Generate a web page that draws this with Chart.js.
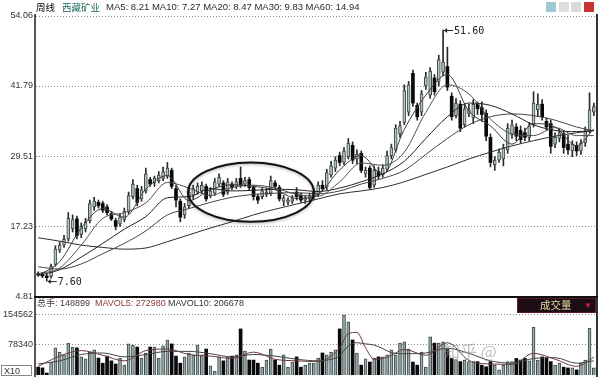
<!DOCTYPE html>
<html>
<head>
<meta charset="utf-8">
<title>西藏矿业 周线</title>
<script src="https://cdn.jsdelivr.net/npm/chart.js@4/dist/chart.umd.min.js"></script>
<style>
  body { margin: 0; background: #fff; }
  #wrap { position: relative; width: 600px; height: 377px; overflow: hidden; background: #fff;
          font-family: "Liberation Sans", Arial, sans-serif; }
  canvas { position: absolute; left: 0; }
  #price { top: 0; }
  #vol { top: 297px; }
  .t { position: absolute; white-space: nowrap; line-height: 12px; }
  .cjk { font-family: "Noto Sans CJK SC", sans-serif; }
  .line { position: absolute; }
</style>
</head>
<body>
<div id="wrap">
  <canvas id="vol" width="600" height="80"></canvas>
  <canvas id="price" width="600" height="305"></canvas>

  <!-- frame lines -->
  <div class="line" style="left:34px;top:14px;width:2px;height:363px;background:#555"></div>
  <div class="line" style="left:596px;top:14px;width:2px;height:363px;background:#333"></div>
  <div class="line" style="left:34px;top:296px;width:564px;height:2px;background:#111"></div>

  <!-- price header -->
  <div class="t cjk" style="left:36px;top:1px;font-size:9.5px;color:#000">周线</div>
  <div class="t cjk" style="left:62px;top:1px;font-size:9.5px;color:#1f6a5e">西藏矿业</div>
  <div class="t" style="left:106px;top:1px;font-size:9.5px;color:#2a2a3a">MA5: 8.21 MA10: 7.27 MA20: 8.47 MA30: 9.83 MA60: 14.94</div>

  <!-- small toolbar icons top right -->
  <div class="line" style="left:546px;top:2px;width:10px;height:10px;background:#9cc9d2"></div>
  <div class="line" style="left:559px;top:2px;width:10px;height:10px;background:#dedede"></div>
  <div class="line" style="left:571px;top:2px;width:10px;height:10px;background:#dadada"></div>
  <div class="line" style="left:584px;top:2px;width:10px;height:10px;background:#c83232"></div>

  <!-- volume header -->
  <div class="t" style="left:37px;top:297px;font-size:9px;color:#4a3838"><span class="cjk">总手</span>: 148899</div>
  <div class="t" style="left:95px;top:297px;font-size:9px;color:#8a3a3a">MAVOL5: 272980</div>
  <div class="t" style="left:168px;top:297px;font-size:9px;color:#333">MAVOL10: 206678</div>

  <div class="line" style="left:517px;top:298px;width:79px;height:15px;background:#1c0d14;border:1px solid #5a1a2a;box-sizing:border-box"></div>
  <div class="t cjk" style="left:540px;top:299px;font-size:10.5px;color:#e8dfa0">成交量</div>
  <div class="t" style="left:584px;top:300px;font-size:8px;color:#d0204a">▼</div>

  <div class="t" style="left:1px;top:365px;width:31px;height:11px;border:1px solid #888;font-size:9px;line-height:11px;color:#333;padding-left:2px;box-sizing:border-box">X10</div>

  <!-- watermark -->
  <div class="t cjk" style="left:443px;top:341px;font-size:17px;line-height:20px;color:rgba(140,140,140,0.55)">知乎 @</div>
</div>

<script>
// weekly candles, index 0..129
var openP = [
  8.9, 8.8, 8.5, 8.4, 10.5, 13.0, 13.9, 15.0, 16.8, 18.5,
  15.8, 16.8, 18.2, 20.6, 21.4, 21.2, 20.6, 19.4, 18.2, 17.6,
  18.4, 19.8, 22.4, 23.8, 22.0, 23.4, 25.4, 24.8, 25.2, 25.6,
  26.0, 27.0, 23.8, 21.6, 19.2, 20.8, 22.6, 23.2, 23.4, 24.2,
  22.6, 23.0, 24.6, 24.8, 23.2, 24.6, 24.2, 25.6, 24.6, 25.4,
  24.0, 22.4, 22.4, 22.8, 23.0, 24.8, 24.0, 21.6, 21.4, 21.6,
  23.2, 22.6, 21.8, 22.0, 22.4, 22.8, 24.4, 24.0, 26.2, 27.4,
  29.6, 28.4, 29.4, 31.4, 29.0, 30.0, 26.4, 27.4, 24.4, 26.8,
  26.2, 27.2, 29.6, 30.6, 33.4, 35.4, 37.2, 44.0, 38.4, 37.2,
  41.8, 40.2, 43.2, 42.6, 44.2, 45.2, 40.0, 36.6, 38.6, 35.0,
  37.0, 36.2, 38.6, 38.0, 37.0, 32.8, 28.0, 28.8, 29.0, 30.6,
  33.2, 34.6, 34.0, 33.6, 32.8, 35.0, 37.6, 38.6, 35.6, 35.2,
  31.6, 32.6, 33.4, 31.6, 30.4, 31.4, 30.4, 31.8, 34.0, 37.2
];
var closeP = [
  8.7, 8.5, 8.2, 10.2, 13.2, 13.9, 14.9, 18.6, 18.4, 15.6,
  17.2, 18.0, 21.2, 21.6, 20.8, 20.0, 19.6, 18.5, 17.2, 18.8,
  19.8, 22.6, 24.6, 21.4, 23.6, 26.4, 24.6, 25.6, 26.2, 26.8,
  27.4, 24.2, 21.8, 18.8, 20.6, 23.2, 23.8, 24.2, 24.4, 22.0,
  23.4, 25.0, 25.8, 22.8, 25.0, 24.0, 25.0, 24.4, 25.2, 24.0,
  22.4, 21.8, 23.4, 23.2, 25.2, 24.2, 22.0, 22.2, 21.8, 22.0,
  22.4, 21.8, 22.2, 22.6, 23.2, 24.4, 23.8, 26.6, 27.8, 28.8,
  28.4, 30.4, 31.8, 28.8, 29.8, 27.0, 27.0, 24.0, 27.0, 26.0,
  27.4, 29.6, 31.0, 34.4, 34.8, 41.0, 42.0, 38.8, 36.4, 40.4,
  43.4, 44.4, 40.8, 46.4, 46.0, 41.6, 36.4, 38.8, 34.4, 37.8,
  37.6, 38.6, 37.8, 36.8, 33.0, 28.4, 28.8, 30.2, 31.0, 34.4,
  35.0, 33.0, 32.4, 32.8, 34.8, 38.8, 38.6, 36.4, 34.6, 31.2,
  32.8, 33.6, 31.0, 30.6, 31.6, 30.4, 31.8, 33.8, 37.6, 38.2
];
var highP = [
  9.2, 9.1, 8.8, 10.6, 13.8, 14.5, 15.6, 19.6, 19.2, 19.0,
  17.8, 18.6, 21.8, 22.3, 21.8, 21.6, 21.0, 19.8, 18.6, 19.4,
  20.4, 23.2, 25.4, 24.4, 24.2, 27.4, 25.8, 26.0, 26.8, 27.6,
  28.4, 27.4, 24.4, 22.0, 21.2, 23.8, 24.4, 24.8, 25.0, 24.6,
  24.0, 25.6, 26.4, 25.2, 25.6, 25.0, 25.6, 27.6, 25.8, 25.8,
  24.4, 22.8, 23.8, 23.8, 26.0, 25.2, 24.4, 22.6, 22.2, 22.6,
  24.0, 23.0, 22.6, 23.0, 23.8, 25.0, 25.2, 27.2, 28.6, 29.4,
  30.2, 31.0, 32.6, 32.0, 30.6, 30.4, 27.6, 27.8, 27.8, 27.6,
  28.0, 30.4, 31.6, 35.0, 35.6, 42.0, 42.6, 44.6, 38.8, 41.0,
  44.2, 45.0, 43.8, 47.2, 51.6, 48.6, 40.6, 39.6, 39.2, 38.6,
  38.6, 39.4, 39.0, 39.0, 37.6, 33.4, 29.4, 30.8, 31.6, 35.2,
  35.8, 35.2, 34.8, 34.4, 35.4, 40.8, 40.4, 39.4, 36.2, 35.8,
  33.6, 34.4, 34.0, 33.2, 32.2, 32.0, 32.4, 34.6, 40.6, 38.8
];
var lowP = [
  8.4, 8.2, 7.6, 8.1, 10.2, 12.6, 13.5, 14.6, 16.2, 15.0,
  15.2, 16.2, 17.8, 20.0, 20.4, 19.6, 19.2, 18.2, 16.6, 17.2,
  18.0, 19.4, 22.0, 20.8, 21.6, 23.0, 24.2, 24.2, 24.8, 25.2,
  25.6, 23.8, 20.6, 18.0, 18.6, 20.4, 22.0, 22.8, 23.0, 21.6,
  22.2, 22.6, 24.2, 22.4, 22.8, 23.6, 23.8, 24.0, 24.2, 23.6,
  21.8, 21.2, 22.0, 22.4, 22.6, 23.6, 21.6, 20.8, 21.0, 21.2,
  21.8, 21.4, 21.2, 21.6, 22.0, 22.4, 23.4, 23.6, 25.8, 26.8,
  27.8, 28.0, 29.0, 28.2, 28.2, 26.6, 25.8, 23.6, 24.0, 25.4,
  25.8, 26.8, 29.0, 30.2, 32.8, 35.0, 36.6, 38.2, 35.8, 36.6,
  41.2, 39.6, 40.2, 41.8, 43.6, 41.0, 35.8, 36.2, 33.8, 34.6,
  36.4, 35.2, 36.8, 35.6, 32.2, 27.6, 27.0, 28.4, 27.8, 30.0,
  32.6, 32.2, 31.8, 32.2, 32.2, 34.6, 36.4, 35.8, 34.0, 30.0,
  31.0, 32.0, 30.0, 29.8, 29.4, 29.6, 29.8, 31.2, 33.6, 36.6
];

// weekly volume, thousands of lots (x10)
var volume = [
  20, 18, 5, 33, 69, 58, 51, 81, 71, 69,
  46, 41, 58, 64, 43, 30, 48, 36, 28, 43,
  25, 79, 76, 71, 43, 56, 71, 71, 43, 74,
  89, 79, 48, 30, 46, 56, 51, 76, 51, 66,
  23, 10, 46, 36, 46, 48, 51, 117, 61, 38,
  38, 30, 20, 38, 66, 38, 25, 51, 20, 33,
  46, 20, 25, 30, 30, 43, 56, 51, 58, 64,
  117, 152, 135, 89, 56, 25, 41, 33, 43, 46,
  46, 51, 64, 51, 81, 84, 66, 33, 25, 58,
  20, 97, 81, 81, 84, 66, 42, 39, 34, 38,
  34, 34, 34, 25, 21, 34, 25, 13, 25, 34,
  34, 42, 38, 42, 36, 122, 38, 46, 43, 34,
  25, 30, 20, 18, 18, 13, 30, 38, 119, 18
];

// moving averages, one value every few weeks
var maWeeks = [0, 5, 10, 15, 20, 25, 30, 35, 40, 45, 50, 55, 60, 65, 70, 75, 80, 85, 90, 95, 100, 105, 110, 115, 120, 125, 129];
var ma5  = [8.6, 11.0, 16.9, 20.3, 18.8, 23.7, 26.1, 21.7, 23.6, 24.5, 24.2, 23.6, 22.1, 22.8, 27.1, 29.6, 26.3, 34.2, 40.2, 43.8, 37.4, 34.8, 31.6, 35.2, 34.6, 31.3, 34.3];
var ma10 = [8.9, 9.9, 13.9, 18.6, 19.6, 21.3, 24.9, 23.9, 22.6, 24.0, 24.4, 23.9, 22.8, 22.5, 25.0, 28.3, 27.9, 30.2, 37.2, 42.0, 40.4, 36.0, 33.4, 33.1, 34.5, 33.1, 33.1];
var ma20 = [8.6, 9.6, 11.8, 14.2, 16.7, 18.9, 22.2, 22.4, 23.8, 23.4, 23.5, 23.7, 23.6, 23.3, 23.9, 25.0, 26.4, 28.6, 32.6, 36.4, 38.8, 38.4, 36.9, 35.0, 34.0, 33.8, 34.0];
var ma30 = [10.1, 9.7, 10.6, 12.4, 14.2, 16.4, 19.2, 20.3, 21.4, 22.3, 22.8, 23.0, 23.1, 22.9, 23.4, 24.6, 25.6, 27.0, 29.8, 32.6, 35.0, 36.4, 36.9, 36.6, 35.8, 34.6, 33.9];
var ma60 = [15.2, 14.6, 13.9, 13.5, 13.2, 13.4, 14.5, 15.7, 16.9, 18.0, 19.2, 20.2, 21.1, 22.0, 22.9, 23.4, 24.0, 25.0, 26.3, 27.6, 29.0, 30.2, 31.3, 32.2, 33.0, 33.6, 34.0];

var volMaWeeks = [0, 5, 10, 15, 20, 25, 30, 35, 40, 45, 50, 55, 60, 65, 68, 70, 72, 74, 76, 78, 80, 82, 85, 90, 95, 100, 105, 110, 115, 120, 125, 129];
var mavol5  = [22, 48, 62, 50, 36, 62, 66, 52, 48, 42, 58, 40, 36, 34, 48, 69, 105, 108, 69, 40, 42, 50, 65, 50, 82, 37, 28, 27, 55, 40, 22, 45];
var mavol10 = [28, 36, 52, 56, 46, 52, 60, 60, 54, 46, 52, 48, 40, 36, 40, 49, 74, 82, 79, 76, 67, 57, 54, 56, 68, 55, 36, 30, 42, 44, 30, 36];

// axis tick labels
var priceTicks = [4.81, 17.23, 29.51, 41.79, 54.06];
var volTicks = [78340, 154562];

// the ring drawn round the sideways stretch (weeks / price)
var ring = { week: 49.4, halfWeeks: 14.6, price: 23.2, halfPrice: 5.2 };

var upFill = "#b4c3c3";
var upEdge = "#3c4747";
var downFill = "#0a0a0a";

function isUp(i) {
  return closeP[i] >= openP[i];
}

function pts(xs, ys, k) {
  return xs.map(function (x, j) { return { x: x, y: ys[j] * (k || 1) }; });
}

function maLine(label, xs, ys, color, k) {
  return {
    type: "line",
    label: label,
    data: pts(xs, ys, k),
    borderColor: color,
    borderWidth: 1,
    pointRadius: 0,
    cubicInterpolationMode: "monotone",
    order: 0
  };
}

var bodies = openP.map(function (o, i) { return { x: i, y: [o, closeP[i]] }; });
var wicks = lowP.map(function (l, i) { return { x: i, y: [l, highP[i]] }; });

// little arrow + number next to the extreme prices
function tag(ctx, px, py, text) {
  ctx.save();
  ctx.strokeStyle = "#222";
  ctx.fillStyle = "#222";
  ctx.lineWidth = 1;
  ctx.beginPath();
  ctx.moveTo(px + 1, py + 0.5);
  ctx.lineTo(px + 10, py + 0.5);
  ctx.stroke();
  ctx.beginPath();
  ctx.moveTo(px + 1, py + 0.5);
  ctx.lineTo(px + 4, py - 2);
  ctx.lineTo(px + 4, py + 3);
  ctx.closePath();
  ctx.fill();
  ctx.font = '10px "DejaVu Sans Mono", monospace';
  ctx.textBaseline = "middle";
  ctx.fillText(text, px + 11, py + 1);
  ctx.restore();
}

var marks = {
  id: "marks",
  afterDatasetsDraw: function (chart) {
    var ctx = chart.ctx, xs = chart.scales.x, ys = chart.scales.y;
    var hi = 0, lo = 0;
    for (var i = 1; i < highP.length; i++) {
      if (highP[i] > highP[hi]) hi = i;
      if (lowP[i] < lowP[lo]) lo = i;
    }
    tag(ctx, xs.getPixelForValue(hi), ys.getPixelForValue(highP[hi]), highP[hi].toFixed(2));
    tag(ctx, xs.getPixelForValue(lo), ys.getPixelForValue(lowP[lo]), lowP[lo].toFixed(2));

    var cx = xs.getPixelForValue(ring.week);
    var cy = ys.getPixelForValue(ring.price);
    var rx = xs.getPixelForValue(ring.week + ring.halfWeeks) - cx;
    var ry = cy - ys.getPixelForValue(ring.price + ring.halfPrice);
    ctx.save();
    ctx.shadowColor = "rgba(0,0,0,0.35)";
    ctx.shadowBlur = 3;
    ctx.shadowOffsetY = 1;
    ctx.strokeStyle = "#111";
    ctx.lineWidth = 2;
    ctx.beginPath();
    ctx.ellipse(cx, cy, rx, ry, 0, 0, Math.PI * 2);
    ctx.stroke();
    ctx.restore();
  }
};

function leftAxis(min, max, ticks, fmt) {
  return {
    min: min,
    max: max,
    afterBuildTicks: function (s) { s.ticks = ticks.map(function (v) { return { value: v }; }); },
    afterFit: function (s) { s.width = 36; s.paddingTop = 0; s.paddingBottom = 0; },
    ticks: { font: { size: 9, family: '"Liberation Sans", Arial' }, color: "#333", padding: 3, callback: fmt },
    grid: { color: "#8c8c8c", drawTicks: false },
    border: { display: false, dash: [1, 2] }
  };
}

var xAxis = { type: "linear", min: -0.5, max: 129.5, display: false, offset: false };

new Chart(document.getElementById("price"), {
  data: {
    datasets: [
      maLine("MA5", maWeeks, ma5, "#3a3a3a"),
      maLine("MA10", maWeeks, ma10, "#505050"),
      maLine("MA20", maWeeks, ma20, "#222"),
      maLine("MA30", maWeeks, ma30, "#444"),
      maLine("MA60", maWeeks, ma60, "#2e2e2e"),
      {
        type: "bar",
        label: "body",
        data: bodies,
        grouped: false,
        barThickness: 3,
        minBarLength: 1,
        borderSkipped: false,
        backgroundColor: function (c) { return isUp(c.dataIndex) ? upFill : downFill; },
        borderColor: function (c) { return isUp(c.dataIndex) ? upEdge : downFill; },
        borderWidth: function (c) { return isUp(c.dataIndex) ? 1 : 0; },
        order: 1
      },
      {
        type: "bar",
        label: "wick",
        data: wicks,
        grouped: false,
        barThickness: 1,
        backgroundColor: "#2a2a2a",
        order: 2
      }
    ]
  },
  options: {
    responsive: false,
    animation: false,
    layout: { padding: { top: 16, right: 4, bottom: 8, left: 0 } },
    plugins: { legend: { display: false }, tooltip: { enabled: false } },
    scales: {
      x: xAxis,
      y: leftAxis(4.81, 54.06, priceTicks, function (v) { return v.toFixed(2); })
    }
  },
  plugins: [marks]
});

new Chart(document.getElementById("vol"), {
  data: {
    datasets: [
      maLine("MAVOL5", volMaWeeks, mavol5, "#6a3c3c", 1000),
      maLine("MAVOL10", volMaWeeks, mavol10, "#444", 1000),
      {
        type: "bar",
        label: "volume",
        data: volume.map(function (v, i) { return { x: i, y: v * 1000 }; }),
        grouped: false,
        barThickness: 3,
        borderSkipped: "start",
        backgroundColor: function (c) { return isUp(c.dataIndex) ? "#93a9a9" : downFill; },
        borderColor: function (c) { return isUp(c.dataIndex) ? "#3f4a4a" : downFill; },
        borderWidth: function (c) { return isUp(c.dataIndex) ? 1 : 0; },
        order: 1
      }
    ]
  },
  options: {
    responsive: false,
    animation: false,
    layout: { padding: { top: 1, right: 4, bottom: 2, left: 0 } },
    plugins: { legend: { display: false }, tooltip: { enabled: false } },
    scales: {
      x: xAxis,
      y: leftAxis(0, 195600, volTicks, function (v) { return String(v); })
    }
  }
});
</script>
</body>
</html>
